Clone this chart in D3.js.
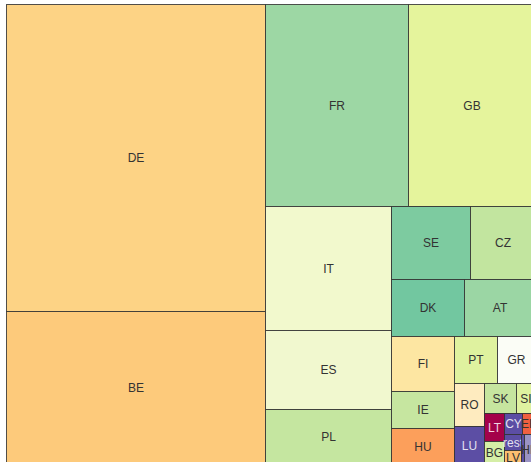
<!DOCTYPE html>
<html>
<head>
<meta charset="utf-8">
<script src="https://cdn.jsdelivr.net/npm/d3@7"></script>
<style>
  html, body { margin: 0; padding: 0; overflow: hidden; background: #fff; }
  svg { display: block; }
</style>
</head>
<body>
<svg id="chart" width="531" height="462"></svg>
<script>
// ---- data ----
const countries = ["DE","BE","FR","GB","IT","ES","PL","SE","CZ","DK","AT","FI","IE","HU","PT","GR","RO","LU","SK","SI","LT","BG","CY","EE","rest","LV","MT","HR"];
const values    = [79513,39627,28886,25654,15624,9954,6930,5767,4745,4104,4050,3465,2331,2268,2021,1786,1290,1140,960,570,560,460,360,260,272,224,93,341];

// ---- layout config: how many cells go in each strip, and the strip direction ----
const stripSizes = [2,2,3,2,2,3,2,2,2,2,2,2,1,1];
const stripDirs  = ["col","row","col","row","row","col","row","col","row","col","row","col","col","col"];

// ---- style ----
const palette = ["#fdd385","#fdca7b","#9dd7a4","#e5f49c","#f2f9cd","#f1f8cf","#c5e6a0","#7dcba0","#c2e59f","#72c7a0","#9bd6a4","#fde6a2","#c6e6a0","#fc9f5b","#dff29f","#fbfdf6","#feebbf","#5c4ea4","#c6e59f","#dff2a0","#a4024a","#d5eea6","#5c4ea4","#f06040","#5c4ea4","#fdbf70","#5c4ea4","#9a93c4"];
const darkCells = new Set(["LT","CY","LU","rest","MT"]);

const width = 529, height = 460;   // treemap extent (runs past the window edge)
const color = d3.scaleOrdinal(countries, palette);

// squarify-like strip tiling, with the strip breaks given above
function stripTile(parent, x0, y0, x1, y1) {
  const nodes = parent.children;
  let value = parent.value, i = 0;
  stripSizes.forEach((n, k) => {
    if (i >= nodes.length) return;
    const kids = nodes.slice(i, i + n);
    const sum = d3.sum(kids, d => d.value);
    const row = {children: kids, value: sum};
    const dx = x1 - x0, dy = y1 - y0;
    if (stripDirs[k] === "row") {
      d3.treemapDice(row, x0, y0, x1, value ? (y0 += dy * sum / value) : y1);
    } else {
      d3.treemapSlice(row, x0, y0, value ? (x0 += dx * sum / value) : x1, y1);
    }
    value -= sum;
    i += n;
  });
}

const root = d3.hierarchy({children: countries.map((c, i) => ({name: c, value: values[i]}))})
  .sum(d => d.value || 0);

d3.treemap()
  .tile(stripTile)
  .size([width, height])
  .round(true)(root);

const svg = d3.select("#chart");
const g = svg.append("g").attr("transform", "translate(6.5,4.5)");

const cell = g.selectAll("g.cell")
  .data(root.leaves())
  .join("g")
  .attr("class", "cell")
  .attr("transform", d => `translate(${d.x0},${d.y0})`);

cell.append("rect")
  .attr("width", d => d.x1 - d.x0)
  .attr("height", d => d.y1 - d.y0)
  .attr("fill", d => color(d.data.name))
  .attr("stroke", "#333")
  .attr("stroke-opacity", 0.85)
  .attr("stroke-width", 1);

cell.filter(d => d.x1 - d.x0 >= 8)
  .append("text")
  .attr("x", d => (d.x1 - d.x0) / 2)
  .attr("y", d => (d.y1 - d.y0) / 2)
  .attr("dy", "0.35em")
  .attr("text-anchor", "middle")
  .attr("font-family", "Liberation Sans, Arial, sans-serif")
  .attr("font-size", 12)
  .attr("fill", d => darkCells.has(d.data.name) ? "rgba(255,255,255,0.85)" : "#333")
  .text(d => d.data.name);
</script>
</body>
</html>
